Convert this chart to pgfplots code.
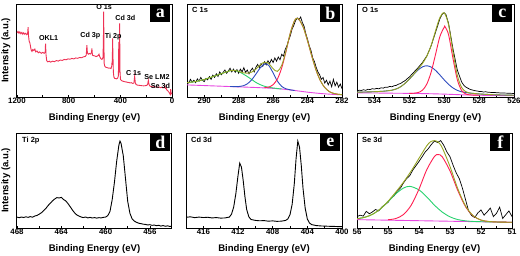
\documentclass[border=0pt]{standalone}
\usepackage{pgfplots}
\pgfplotsset{compat=1.18}
\usepackage{fontspec}
\setmainfont{Liberation Sans}
\newfontfamily\serifb{Liberation Serif}
\definecolor{survey}{RGB}{238,50,85}
\definecolor{fitred}{RGB}{255,30,80}
\definecolor{fitblue}{RGB}{45,75,190}
\definecolor{fitgreen}{RGB}{40,210,110}
\definecolor{fitmag}{RGB}{230,70,225}
\definecolor{fitolive}{RGB}{150,165,35}
\newcommand\ticklab{\bfseries\fontsize{7.9}{8}\selectfont}
\newcommand\axlab{\bfseries\fontsize{9.6}{10}\selectfont}
\newcommand\panlab{\bfseries\fontsize{7.5}{8}\selectfont}
\newcommand\annlab{\bfseries\fontsize{7.2}{8}\selectfont}
\newcommand\letfont{\serifb\bfseries\fontsize{18}{18}\selectfont}
\pgfplotsset{
 panel/.style={
  scale only axis, width=155bp,
  x dir=reverse, ymin=0, ymax=100, ytick=\empty,
  axis line style={line width=1bp},
  xtick pos=bottom, tick align=inside, minor tick num=1,
  major tick length=2.5bp, minor tick length=1.8bp,
  every tick/.style={line width=0.7bp, black},
  xticklabel style={font=\ticklab, inner sep=1bp},
  /pgf/number format/assume math mode=true,
  /pgf/number format/1000 sep={},
  xlabel={Binding Energy (eV)},
  xlabel style={font=\axlab, at={(axis description cs:0.5,0)}, anchor=center, yshift=-21bp},
  ylabel style={font=\axlab, at={(axis description cs:-0.072,0.5)}, anchor=center},
  clip mode=individual,
  every axis plot/.append style={line width=0.9bp},
 }
}
\begin{document}
\begin{tikzpicture}
\useasboundingbox (0,0) rectangle (520bp,-256bp);
% ---------------- a ----------------
\begin{axis}[panel, at={(17bp,-97bp)}, anchor=south west, height=93bp,
  xmin=0, xmax=1200, xtick={0,400,800,1200}, ylabel={Intensity (a.u.)}]
\addplot[survey] coordinates {(1200,69) (1192,70.5) (1185,68.5) (1178,70) (1170,68) (1162,69.5) (1155,67.5) (1148,69) (1140,67.5) (1132,68.5) (1124,67) (1118,68) (1114,75) (1111,66) (1106,60) (1100,58) (1095,54) (1090,50.5) (1084,49) (1078,51) (1070,50) (1062,51.5) (1055,48.5) (1045,49.5) (1035,47.5) (1025,48.5) (1012,47) (1000,48) (990,47) (982,48) (979,57.5) (975,45) (970,39) (962,37.8) (950,38.5) (940,37.5) (925,38.5) (910,38) (895,39.2) (880,38.6) (865,39.8) (850,39.3) (835,40.4) (820,40) (805,41) (790,40.6) (775,41.5) (760,41) (745,42) (730,41.6) (715,42.5) (700,42.2) (685,43.2) (672,43.5) (664,45) (659,55.8) (655,47.5) (648,46) (640,46.8) (632,46.2) (624,47.5) (620,52.2) (616,45) (608,44.5) (598,44.2) (588,43.5) (578,44) (570,44.8) (565,46) (560,43.5) (552,41.5) (544,40.5) (538,41) (534,43) (531,62) (529,91.7) (527,58) (525,36) (520,33) (512,32) (500,31.5) (490,31) (480,31.2) (472,30.6) (467,33) (464,38) (462,35) (460,63) (457,44) (454,27) (450,21.5) (444,20) (436,19.8) (428,19.5) (420,20.5) (415,23) (412,59.4) (409,29) (407,28) (405,79.1) (403,29) (399,19) (392,17.8) (384,17.2) (375,16.8) (365,16.4) (355,16.2) (345,15.8) (335,15.6) (325,15.2) (315,15.4) (305,14.6) (295,15) (289,22.3) (284,15.2) (278,13.5) (268,12.8) (258,12.6) (245,12.4) (232,12.1) (218,12) (205,12.2) (195,12.5) (188,14) (183,18) (178,13.5) (170,11.6) (160,11.3) (150,10.8) (140,11.1) (130,10.6) (120,10.9) (110,10.5) (100,10.8) (90,10.1) (80,10.3) (70,9.9) (60,10.2) (55,12) (52,9.2) (46,9.6) (40,7.5) (34,7) (28,5.8) (22,5) (17,3.5) (13,2.5) (10,8.5) (7,3.5) (3,4) (0,3)};
\node[font=\annlab] at (axis cs:955,63.7) {OKL1};
\node[font=\annlab] at (axis cs:632,66.5) {Cd 3p};
\node[font=\annlab] at (axis cs:526,96.5) {O 1s};
\node[font=\annlab] at (axis cs:455,64.7) {Ti 2p};
\node[font=\annlab] at (axis cs:361,84.5) {Cd 3d};
\node[font=\annlab] at (axis cs:297,26.3) {C 1s};
\node[font=\annlab] at (axis cs:116,21.6) {Se LM2};
\node[font=\annlab] at (axis cs:90,11.5) {Se 3d};
\node[fill=black,text=white,minimum width=20bp,minimum height=17bp,inner sep=0pt,anchor=north east,font=\letfont,xshift=-1.5bp,yshift=-0.5bp] at (rel axis cs:1,1) {a};
\end{axis}
% ---------------- b ----------------
\begin{axis}[panel, at={(187bp,-97bp)}, anchor=south west, height=93bp,
  xmin=282, xmax=291, xtick={282,284,...,290}]
\addplot[black, line width=0.7bp] coordinates {(291.0,17) (290.9,15) (290.8,19) (290.7,16) (290.6,18) (290.5,15.5) (290.4,19.5) (290.3,17) (290.2,21) (290.1,18) (290.0,16.5) (289.9,20) (289.8,18.5) (289.7,22) (289.6,19) (289.5,23.5) (289.4,21) (289.3,25) (289.2,22) (289.1,27) (289.0,24) (288.9,26.5) (288.8,29) (288.7,25.5) (288.6,28) (288.5,31) (288.4,27) (288.3,30) (288.2,26.5) (288.1,29.5) (288.0,25.5) (287.9,30) (287.8,27) (287.7,31.5) (287.6,26.5) (287.5,29) (287.4,25) (287.3,28.5) (287.2,31) (287.1,27) (287.0,32) (286.9,35) (286.8,31.5) (286.7,36) (286.6,33) (286.5,38) (286.4,34.5) (286.3,39) (286.2,36) (286.1,40.5) (286.0,37) (285.9,42) (285.8,38.5) (285.7,43) (285.6,40) (285.5,46) (285.4,44) (285.3,51) (285.2,55) (285.1,61) (285.0,66) (284.9,73) (284.8,77) (284.7,82) (284.6,85) (284.5,83) (284.4,86) (284.3,80) (284.2,76) (284.1,68) (284.0,62) (283.9,55) (283.8,50) (283.7,42) (283.6,38) (283.5,32) (283.4,27) (283.3,24) (283.2,19) (283.1,21) (283.0,15) (282.9,18) (282.8,13) (282.7,17) (282.6,11) (282.5,19) (282.4,12) (282.3,16) (282.2,10.5) (282.1,14) (282.0,9)};
\addplot[fitmag, smooth] coordinates {(291,13) (290,12.3) (289,11.6) (288,10.9) (287,10.2) (286,9.3) (285.5,8.6) (285,7.6) (284.5,6.4) (284,5.2) (283.5,4.2) (283,3.4) (282.5,2.8) (282,2.4)};
\addplot[fitgreen, smooth] coordinates {(291,15.5) (290.5,16.65) (290,18.8) (289.5,21.95) (289,25.1) (288.5,28.25) (288.3,28.6) (288,27.4) (287.5,22.05) (287,15.7) (286.75,13.3) (286.5,11.55) (286.25,10.4) (286,9.7) (285.75,9.1) (285.5,8.6)};
\addplot[fitblue, smooth] coordinates {(288.5,11.3) (288,11.2) (287.75,12.0) (287.5,14.15) (287.25,18.37) (287,24.6) (286.75,31.3) (286.5,35.35) (286.4,35.65) (286.25,33.9) (286,26.0) (285.75,17.05) (285.5,11.4) (285.25,8.8) (285,7.7) (284.75,7.0)};
\addplot[fitred, smooth] coordinates {(286.5,10.05) (286.25,10.7) (286,13.3) (285.75,19.35) (285.5,31.3) (285.25,49.1) (285,68.8) (284.75,82.4) (284.6,84.64) (284.5,83.7) (284.25,75.1) (284,60.4) (283.75,43.7) (283.5,28.6) (283.25,17.4) (283,10.1) (282.75,6.0) (282.5,3.9) (282.25,3.0) (282,2.5)};
\addplot[fitolive, smooth] coordinates {(291,15.5) (290.5,16.65) (290,18.8) (289.5,21.95) (289,25.1) (288.5,28.3) (288.3,28.6) (288,27.7) (287.75,26.0) (287.5,25.65) (287.25,26.7) (287,30.1) (286.75,34.7) (286.5,37.45) (286.25,36.0) (286,30.4) (285.75,27.6) (285.5,34.1) (285.25,49.8) (285,68.9) (284.75,82.4) (284.6,84.64) (284.5,83.7) (284.25,75.1) (284,60.4) (283.75,43.7) (283.5,28.6) (283.25,17.4) (283,10.1) (282.75,6.0) (282.5,3.9) (282.25,3.0) (282,2.5)};
\node[anchor=north west,font=\panlab,inner sep=0pt,xshift=5bp,yshift=-3.5bp] at (rel axis cs:0,1) {C 1s};
\node[fill=black,text=white,minimum width=20bp,minimum height=17bp,inner sep=0pt,anchor=north east,font=\letfont,xshift=-1.5bp,yshift=-0.5bp] at (rel axis cs:1,1) {b};
\end{axis}
% ---------------- c ----------------
\begin{axis}[panel, at={(357bp,-97bp)}, anchor=south west, height=93bp, width=157bp,
  xmin=526, xmax=535, xtick={526,528,...,534}]
\addplot[black, line width=0.7bp] coordinates {(535,6.5) (534.875,7.3) (534.75,7.0) (534.625,7.8) (534.5,7.2) (534.375,8.3) (534.25,8.0) (534.125,8.9) (534,8.5) (533.875,9.3) (533.75,8.8) (533.625,9.9) (533.5,9.5) (533.375,10.6) (533.25,10.4) (533.125,11.4) (533,11.0) (532.875,12.1) (532.75,12.5) (532.625,13.8) (532.5,14.5) (532.375,16.2) (532.25,17.5) (532.125,19.6) (532,21.5) (531.75,26.5) (531.5,31.5) (531.25,37) (531,44) (530.75,55) (530.5,69.5) (530.25,84) (530.1,89.5) (530,90.5) (529.9,88.5) (529.75,79) (529.5,52) (529.25,29) (529,16) (528.875,12.5) (528.75,10.5) (528.625,9.3) (528.5,8) (528.375,7.5) (528.25,6.8) (528.125,6.5) (528,6) (527.875,5.9) (527.75,5.4) (527.625,5.6) (527.5,5.2) (527.375,5.0) (527.25,4.8) (527.125,4.9) (527,4.6) (526.875,4.5) (526.75,4.3) (526.625,4.4) (526.5,4.2) (526.375,4.1) (526.25,4.0) (526.125,3.9) (526,3.8)};
\addplot[fitmag, smooth] coordinates {(535,4.5) (534,4.3) (533,4.1) (532,3.9) (531,3.6) (530,3.1) (529,2.4) (528,1.9) (527,1.6) (526,1.4)};
\addplot[fitblue, smooth] coordinates {(535,5.2) (534.5,5.4) (534,5.7) (533.5,6.2) (533,7.3) (532.75,8.65) (532.5,11.0) (532.25,14.65) (532,19.2) (531.75,24.3) (531.5,29.05) (531.25,32.37) (531,33.6) (530.75,32.17) (530.5,28.65) (530.25,23.72) (530,18.4) (529.75,13.62) (529.5,9.75) (529.25,7.17) (529,5.6) (528.75,4.77) (528.5,4.15) (528,3.3) (527.5,2.75) (527,2.3) (526,1.9)};
\addplot[fitred, smooth] coordinates {(532,3.95) (531.75,4.02) (531.5,4.75) (531.25,7.27) (531,13.8) (530.75,26.77) (530.5,45.65) (530.25,64.92) (530,75.1) (529.95,75.47) (529.75,66.92) (529.5,41.65) (529.25,18.67) (529,6.9) (528.75,3.14) (528.5,2.25) (528.25,2.02) (528,1.9)};
\addplot[fitolive, smooth] coordinates {(535,5.2) (534.5,5.4) (534,5.7) (533.5,6.2) (533,7.3) (532.75,8.65) (532.5,11.0) (532.25,14.65) (532,19.25) (531.75,24.5) (531.5,30.05) (531.25,35.97) (531,43.8) (530.75,55.47) (530.5,70.95) (530.25,85.42) (530,90.4) (529.75,77.6) (529.5,48.65) (529.25,23.3) (529,10.1) (528.75,5.6) (528.5,4.25) (528.25,3.7) (528,3.3) (527.5,2.75) (527,2.3) (526.5,2.1) (526,1.9)};
\node[anchor=north west,font=\panlab,inner sep=0pt,xshift=5bp,yshift=-3.5bp] at (rel axis cs:0,1) {O 1s};
\node[fill=black,text=white,minimum width=20bp,minimum height=17bp,inner sep=0pt,anchor=north east,font=\letfont,xshift=-1.5bp,yshift=-0.5bp] at (rel axis cs:1,1) {c};
\end{axis}
% ---------------- d ----------------
\begin{axis}[panel, at={(17bp,-228bp)}, anchor=south west, height=95bp,
  xmin=454, xmax=468, xtick={456,460,464,468}, ylabel={Intensity (a.u.)}]
\addplot[black] coordinates {(468.0,11.5) (467.8,10.8) (467.6,11.6) (467.4,11.0) (467.2,11.8) (467.0,11.2) (466.8,12.0) (466.6,11.4) (466.4,12.6) (466.2,13.2) (466.0,14.5) (465.8,16.0) (465.6,18.2) (465.4,20.5) (465.2,23.5) (465.0,26.0) (464.8,28.5) (464.6,30.5) (464.4,32.0) (464.2,31.6) (464.0,32.2) (463.8,30.0) (463.6,28.6) (463.4,25.8) (463.2,22.5) (463.0,19.0) (462.8,16.0) (462.6,13.8) (462.4,12.6) (462.2,11.5) (462.0,11.0) (461.8,11.6) (461.6,10.6) (461.4,11.2) (461.2,10.5) (461.0,11.0) (460.8,10.4) (460.6,10.9) (460.4,10.6) (460.2,11.2) (460.0,11.5) (459.8,13.0) (459.6,17.5) (459.4,30.0) (459.2,48.0) (459.0,70.0) (458.8,87.0) (458.7,91.5) (458.6,89.0) (458.4,76.0) (458.2,52.0) (458.0,28.0) (457.8,15.5) (457.6,9.5) (457.4,7.2) (457.2,6.0) (457.0,5.0) (456.8,4.6) (456.6,4.0) (456.4,3.8) (456.2,3.2) (456.0,3.5) (455.8,2.8) (455.6,3.1) (455.4,2.4) (455.2,2.9) (455.0,2.0) (454.8,2.6) (454.6,1.8) (454.4,2.3) (454.2,1.6) (454.0,2.0)};
\node[anchor=north west,font=\panlab,inner sep=0pt,xshift=5bp,yshift=-3.5bp] at (rel axis cs:0,1) {Ti 2p};
\node[fill=black,text=white,minimum width=20bp,minimum height=17bp,inner sep=0pt,anchor=north east,font=\letfont,xshift=-1.5bp,yshift=-0.5bp] at (rel axis cs:1,1) {d};
\end{axis}
% ---------------- e ----------------
\begin{axis}[panel, at={(186bp,-228bp)}, anchor=south west, height=95bp, width=156bp,
  xmin=400, xmax=418, xtick={400,404,...,416}]
\addplot[black] coordinates {(418.0,11.2) (417.5,11.8) (417.0,10.9) (416.5,11.5) (416.0,11.0) (415.5,11.3) (415.0,10.6) (414.5,11.0) (414.0,10.4) (413.5,10.6) (413.0,11.5) (412.75,14.5) (412.5,22.0) (412.25,36.0) (412.0,55.0) (411.8,68.3) (411.6,64.0) (411.4,50.0) (411.2,33.0) (411.0,19.5) (410.75,11.8) (410.5,9.0) (410.0,8.0) (409.5,7.6) (409.0,7.8) (408.5,7.2) (408.0,7.5) (407.5,7.0) (407.0,7.2) (406.5,8.0) (406.25,9.5) (406.0,14.0) (405.75,25.0) (405.5,47.0) (405.3,73.0) (405.1,91.5) (404.9,85.0) (404.7,66.0) (404.5,42.0) (404.25,21.0) (404.0,9.5) (403.75,5.2) (403.5,3.6) (403.0,2.6) (402.5,2.2) (402.0,2.0) (401.5,1.8) (401.0,1.7) (400.5,1.5) (400.0,1.5)};
\node[anchor=north west,font=\panlab,inner sep=0pt,xshift=5bp,yshift=-3.5bp] at (rel axis cs:0,1) {Cd 3d};
\node[fill=black,text=white,minimum width=20bp,minimum height=17bp,inner sep=0pt,anchor=north east,font=\letfont,xshift=-1.5bp,yshift=-0.5bp] at (rel axis cs:1,1) {e};
\end{axis}
% ---------------- f ----------------
\begin{axis}[panel, at={(357bp,-228bp)}, anchor=south west, height=95bp,
  xmin=51, xmax=56, xtick={51,...,56}]
\addplot[black, line width=0.7bp] coordinates {(56.0,12.0) (55.9,13.5) (55.8,12.5) (55.7,17.5) (55.6,15.0) (55.5,17.0) (55.4,19.5) (55.3,18.0) (55.2,22.0) (55.1,24.5) (55.0,27.0) (54.9,31.5) (54.8,34.0) (54.7,39.0) (54.6,42.0) (54.5,47.5) (54.4,52.0) (54.3,55.0) (54.2,61.0) (54.1,65.5) (54.0,70.0) (53.9,75.0) (53.8,80.0) (53.7,83.5) (53.6,88.0) (53.5,91.5) (53.4,90.0) (53.3,92.0) (53.2,87.0) (53.1,80.0) (53.0,75.0) (52.9,66.0) (52.8,58.0) (52.7,52.0) (52.6,42.0) (52.5,30.0) (52.4,18.0) (52.3,13.0) (52.2,11.0) (52.1,16.0) (52.0,19.0) (51.9,13.5) (51.8,17.0) (51.7,21.0) (51.6,12.0) (51.5,15.5) (51.4,22.0) (51.3,10.0) (51.2,14.0) (51.1,18.0) (51.0,12.0)};
\addplot[fitmag] coordinates {(56,8.8) (51,6.0)};
\addplot[fitgreen, smooth] coordinates {(56,9.78) (55.75,11.26) (55.5,14.42) (55.25,19.98) (55,27.64) (54.75,35.9) (54.5,42.06) (54.29,43.84) (54,40.08) (53.75,32.74) (53.5,24.0) (53.25,16.76) (53,11.72) (52.75,8.88) (52.5,7.54) (52.25,6.9) (52,6.62) (51.5,6.28) (51,6.0)};
\addplot[fitred, smooth] coordinates {(55,8.69) (54.75,9.95) (54.5,14.16) (54.25,24.12) (54,40.98) (53.75,61.34) (53.5,75.4) (53.38,77.33) (53.25,74.96) (53,60.12) (52.75,39.58) (52.5,22.54) (52.25,12.7) (52,8.31) (51.75,6.84) (51.5,6.36) (51,6.0)};
\addplot[fitolive, smooth] coordinates {(56,9.78) (55.75,11.26) (55.5,14.42) (55.25,20.07) (55,28.09) (54.75,37.75) (54.5,48.26) (54.25,60.12) (54,73.38) (53.75,86.54) (53.625,90.8) (53.5,92.0) (53.38,90.33) (53.25,84.46) (53,64.72) (52.75,41.48) (52.5,23.24) (52.25,12.9) (52,8.37) (51.75,6.84) (51.5,6.36) (51.25,6.14) (51,6.0)};
\node[anchor=north west,font=\panlab,inner sep=0pt,xshift=5bp,yshift=-3.5bp] at (rel axis cs:0,1) {Se 3d};
\node[fill=black,text=white,minimum width=20bp,minimum height=17bp,inner sep=0pt,anchor=north east,font=\letfont,xshift=-1.5bp,yshift=-0.5bp] at (rel axis cs:1,1) {f};
\end{axis}
\end{tikzpicture}
\end{document}
